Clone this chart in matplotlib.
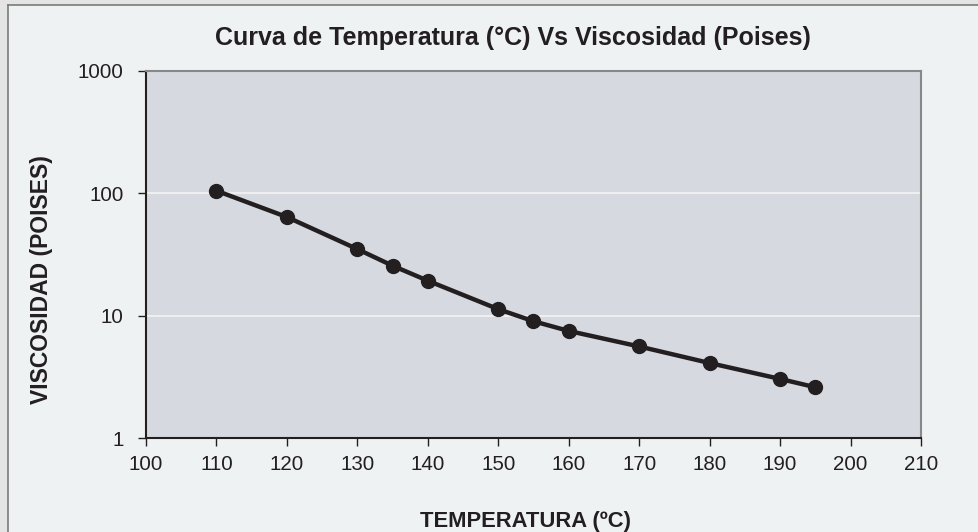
import matplotlib.pyplot as plt
from matplotlib.patches import Rectangle
from matplotlib.ticker import FixedLocator, NullLocator

# datos
temperatura = [110, 120, 130, 135, 140, 150, 155, 160, 170, 180, 190, 195]
viscosidad = [105, 64, 35, 25.6, 19.3, 11.3, 9.0, 7.5, 5.6, 4.1, 3.04, 2.6]

x_ticks = [100, 110, 120, 130, 140, 150, 160, 170, 180, 190, 200, 210]
y_ticks = [1, 10, 100, 1000]

plt.rcParams['font.family'] = ['Liberation Sans', 'DejaVu Sans']

W, H = 979, 532
fig = plt.figure(figsize=(W / 100, H / 100), dpi=100)
fig.patch.set_facecolor('#eff2f3')

# banda exterior y borde del grafico
fig.patches.append(Rectangle((0, 0), 8 / W, 1, transform=fig.transFigure,
                             facecolor='#e4e4e4', edgecolor='none', zorder=0))
fig.patches.append(Rectangle((0, 1 - 5 / H), 1, 5 / H, transform=fig.transFigure,
                             facecolor='#e4e4e4', edgecolor='none', zorder=0))
fig.lines.append(plt.Line2D([8 / W, 8 / W], [0, 1 - 5 / H], transform=fig.transFigure,
                            color='#7a7a7a', lw=1.2))
fig.lines.append(plt.Line2D([8 / W, 1], [1 - 5 / H, 1 - 5 / H], transform=fig.transFigure,
                            color='#7a7a7a', lw=1.2))

left, right, top, bottom = 146, 921, 71, 438
ax = fig.add_axes([left / W, 1 - bottom / H, (right - left) / W, (bottom - top) / H])
ax.set_facecolor('#d6d9e0')

ax.plot(temperatura, viscosidad, color='#231f20', lw=3.2, marker='o',
        markersize=10, markerfacecolor='#231f20', markeredgecolor='#231f20', zorder=3)

ax.set_yscale('log')
ax.set_xlim(100, 210)
ax.set_ylim(1, 1000)
ax.xaxis.set_major_locator(FixedLocator(x_ticks))
ax.yaxis.set_major_locator(FixedLocator(y_ticks))
ax.yaxis.set_minor_locator(NullLocator())
ax.set_yticklabels([str(v) for v in y_ticks])
ax.set_xticklabels([str(v) for v in x_ticks])

ax.grid(axis='y', color='#f2f2f2', lw=1.3)
ax.set_axisbelow(True)

for s in ['top', 'right']:
    ax.spines[s].set_color('#888888')
    ax.spines[s].set_linewidth(1.5)
for s in ['left', 'bottom']:
    ax.spines[s].set_color('#231f20')
    ax.spines[s].set_linewidth(1.5)

ax.tick_params(axis='both', direction='out', length=6, width=1, color='#231f20',
               labelsize=14.8, labelcolor='#231f20')
ax.tick_params(axis='x', pad=6)
ax.tick_params(axis='y', pad=10)

fig.text(513 / W, 1 - 38 / H, 'Curva de Temperatura (°C) Vs Viscosidad (Poises)',
         ha='center', va='center', fontsize=18, fontweight='bold', color='#231f20')
fig.text(526 / W, 1 - 521 / H, 'TEMPERATURA (ºC)', ha='center', va='center',
         fontsize=15.8, fontweight='bold', color='#231f20')
fig.text(42 / W, 1 - 280 / H, 'VISCOSIDAD (POISES)', ha='center', va='center',
         rotation=90, fontsize=16.5, fontweight='bold', color='#231f20')

fig.savefig('out.png', dpi=100, facecolor=fig.get_facecolor())
